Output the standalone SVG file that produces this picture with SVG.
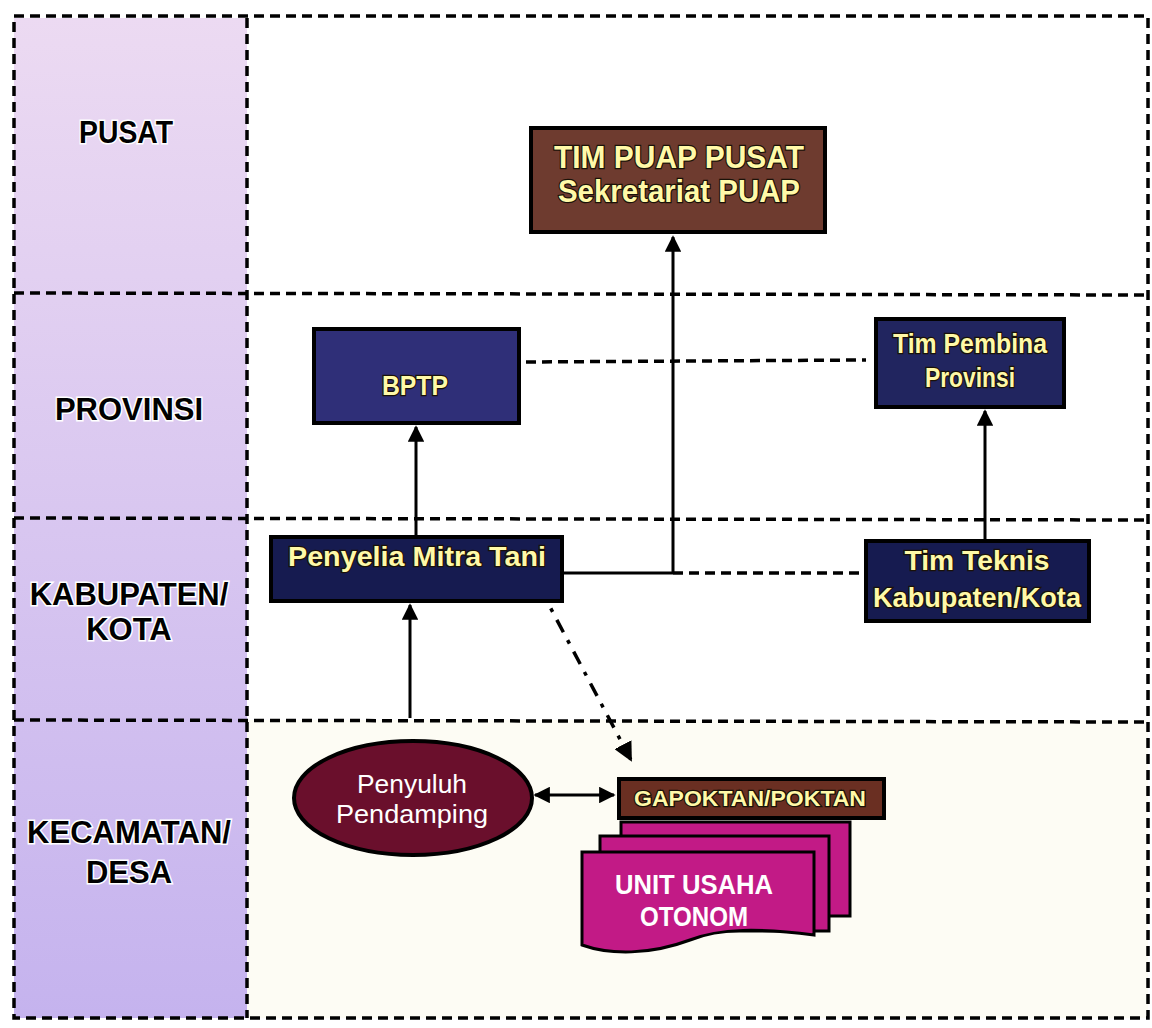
<svg xmlns="http://www.w3.org/2000/svg" width="1152" height="1028" viewBox="0 0 1152 1028">
<defs>
<linearGradient id="lane" x1="0" y1="0" x2="0" y2="1">
<stop offset="0" stop-color="#ecdaf2"/>
<stop offset="1" stop-color="#c5b3ee"/>
</linearGradient>
<marker id="ah" viewBox="0 0 10 10" refX="9" refY="5" markerWidth="5.5" markerHeight="5.5" orient="auto-start-reverse" markerUnits="strokeWidth">
<path d="M0,0 L10,5 L0,10 z" fill="#000"/>
</marker>
<style>
.lbl{font-family:"Liberation Sans",Arial,sans-serif;font-weight:bold;font-size:31px;fill:#000;text-anchor:middle;stroke:#fff;stroke-width:3px;paint-order:stroke;}
.dash{fill:none;stroke:#000;stroke-width:3.5;stroke-dasharray:10 6;}
.box{stroke:#000;stroke-width:4;}
.yt{font-family:"Liberation Sans Narrow","Liberation Sans",Arial,sans-serif;font-weight:bold;fill:#fff9a8;text-anchor:middle;stroke:#1a1208;stroke-width:2.5px;paint-order:stroke;}
.wt{font-family:"Liberation Sans",Arial,sans-serif;fill:#fff;text-anchor:middle;}
.ln{fill:none;stroke:#000;stroke-width:3;}
</style>
</defs>
<rect width="1152" height="1028" fill="#fff"/>
<rect x="247" y="720" width="901" height="298" fill="#fdfcf4"/>
<g id="lanes">
<rect x="14" y="18" width="233" height="1000" fill="url(#lane)"/>
<rect x="14" y="16" width="1134" height="1002" class="dash"/>
<line x1="247" y1="18" x2="247" y2="1018" class="dash"/>
<line x1="14" y1="293" x2="1148" y2="295" class="dash"/>
<line x1="14" y1="518" x2="1148" y2="520" class="dash"/>
<line x1="14" y1="720" x2="1148" y2="722" class="dash"/>
<text class="lbl" x="126" y="143" textLength="94" lengthAdjust="spacingAndGlyphs">PUSAT</text>
<text class="lbl" x="129" y="420">PROVINSI</text>
<text class="lbl" x="129" y="605">KABUPATEN/</text>
<text class="lbl" x="129" y="640">KOTA</text>
<text class="lbl" x="129" y="843">KECAMATAN/</text>
<text class="lbl" x="129" y="883">DESA</text>
</g>
<g id="connectors">
<line x1="673" y1="573" x2="673" y2="237" class="ln" marker-end="url(#ah)"/>
<line x1="563" y1="573" x2="673" y2="573" class="ln"/>
<line x1="673" y1="573" x2="863" y2="573" class="dash" stroke-width="3"/>
<line x1="526" y1="362" x2="866" y2="360" class="dash" stroke-width="3"/>
<line x1="416" y1="536" x2="416" y2="427" class="ln" marker-end="url(#ah)"/>
<line x1="985" y1="540" x2="985" y2="411" class="ln" marker-end="url(#ah)"/>
<line x1="410" y1="718" x2="410" y2="605" class="ln" marker-end="url(#ah)"/>
<line x1="540" y1="588" x2="631" y2="760" fill="none" stroke="#000" stroke-width="3.5" stroke-dasharray="14 9 4 9" marker-end="url(#ah)"/>
<line x1="535" y1="795" x2="614" y2="795" class="ln" marker-start="url(#ah)" marker-end="url(#ah)"/>
</g>
<g id="tim-puap-pusat">
<rect x="531" y="128" width="294" height="104" fill="#6e3b2f" class="box"/>
<text class="yt" x="679" y="168" font-size="31" textLength="250" lengthAdjust="spacingAndGlyphs">TIM PUAP PUSAT</text>
<text class="yt" x="679" y="202" font-size="31" textLength="242" lengthAdjust="spacingAndGlyphs">Sekretariat PUAP</text>
</g>
<g id="bptp">
<rect x="314" y="329" width="205" height="94" fill="#2f2f78" class="box"/>
<text class="yt" x="415" y="395" font-size="28" textLength="66" lengthAdjust="spacingAndGlyphs">BPTP</text>
</g>
<g id="tim-pembina-provinsi">
<rect x="876" y="319" width="188" height="88" fill="#21255f" class="box"/>
<text class="yt" x="970" y="353" font-size="27" textLength="154" lengthAdjust="spacingAndGlyphs">Tim Pembina</text>
<text class="yt" x="970" y="387" font-size="27" textLength="90" lengthAdjust="spacingAndGlyphs">Provinsi</text>
</g>
<g id="penyelia-mitra-tani">
<rect x="271" y="537" width="291" height="64" fill="#161b50" class="box"/>
<text class="yt" x="417" y="566" font-size="28" textLength="258" lengthAdjust="spacingAndGlyphs">Penyelia Mitra Tani</text>
</g>
<g id="tim-teknis">
<rect x="866" y="541" width="223" height="80" fill="#161b50" class="box"/>
<text class="yt" x="977" y="570" font-size="28" textLength="145" lengthAdjust="spacingAndGlyphs">Tim Teknis</text>
<text class="yt" x="977" y="607" font-size="28" textLength="208" lengthAdjust="spacingAndGlyphs">Kabupaten/Kota</text>
</g>
<g id="penyuluh-pendamping">
<ellipse cx="413" cy="798" rx="119" ry="57" fill="#6a0f2c" stroke="#000" stroke-width="4"/>
<text class="wt" x="412" y="793" font-size="25" textLength="110" lengthAdjust="spacingAndGlyphs">Penyuluh</text>
<text class="wt" x="412" y="823" font-size="25" textLength="152" lengthAdjust="spacingAndGlyphs">Pendamping</text>
</g>
<g id="gapoktan">
<rect x="619" y="779" width="265" height="39" fill="#6a2f22" class="box" stroke-width="3"/>
<text class="yt" x="750" y="806" font-size="22" textLength="232" lengthAdjust="spacingAndGlyphs">GAPOKTAN/POKTAN</text>
</g>
<g id="unit-usaha-otonom">
<rect x="621" y="822" width="229" height="94" fill="#c21a86" stroke="#000" stroke-width="3"/>
<rect x="600" y="836" width="229" height="95" fill="#c21a86" stroke="#000" stroke-width="3"/>
<path d="M582,852 L814,852 L814,935 C760,928 720,928 690,940 C650,955 610,955 582,945 Z" fill="#c21a86" stroke="#000" stroke-width="3"/>
<text class="wt" x="694" y="894" font-size="27" font-weight="bold" textLength="158" lengthAdjust="spacingAndGlyphs">UNIT USAHA</text>
<text class="wt" x="694" y="926" font-size="27" font-weight="bold" textLength="108" lengthAdjust="spacingAndGlyphs">OTONOM</text>
</g>
</svg>
